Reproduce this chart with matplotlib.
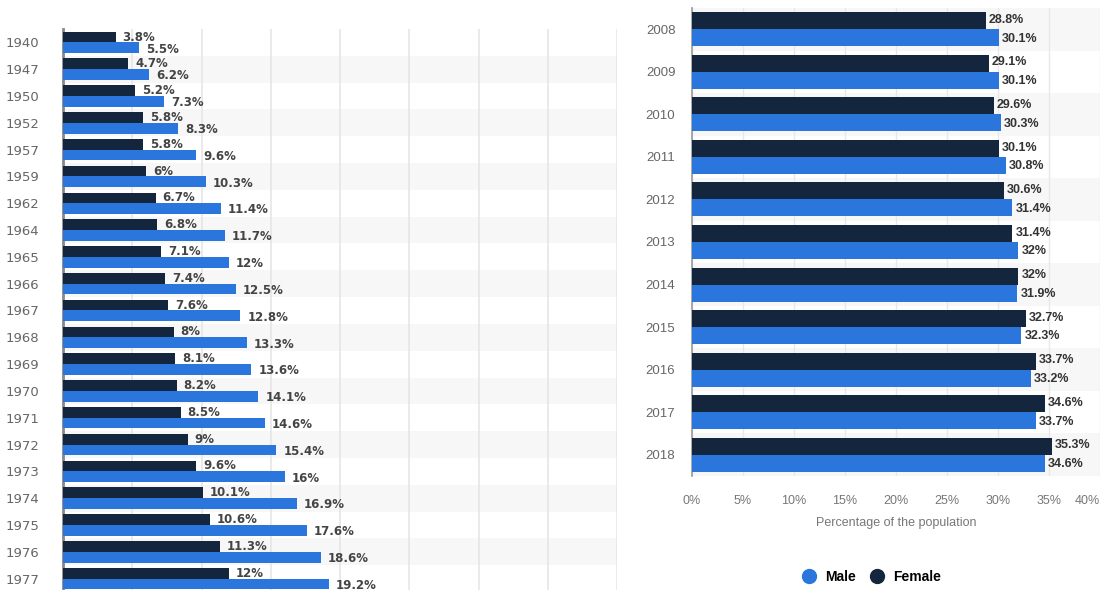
import matplotlib.pyplot as plt
import numpy as np

# data
anos_antigos = ["1940", "1947", "1950", "1952", "1957", "1959", "1962", "1964", "1965", "1966",
                "1967", "1968", "1969", "1970", "1971", "1972", "1973", "1974", "1975", "1976", "1977"]
fem_antigo = [3.8, 4.7, 5.2, 5.8, 5.8, 6, 6.7, 6.8, 7.1, 7.4,
              7.6, 8, 8.1, 8.2, 8.5, 9, 9.6, 10.1, 10.6, 11.3, 12]
masc_antigo = [5.5, 6.2, 7.3, 8.3, 9.6, 10.3, 11.4, 11.7, 12, 12.5,
               12.8, 13.3, 13.6, 14.1, 14.6, 15.4, 16, 16.9, 17.6, 18.6, 19.2]

anos_novos = ["2008", "2009", "2010", "2011", "2012", "2013", "2014", "2015", "2016", "2017", "2018"]
fem_novo = [28.8, 29.1, 29.6, 30.1, 30.6, 31.4, 32, 32.7, 33.7, 34.6, 35.3]
masc_novo = [30.1, 30.1, 30.3, 30.8, 31.4, 32, 31.9, 32.3, 33.2, 33.7, 34.6]

ticks_x = [0, 5, 10, 15, 20, 25, 30, 35, 40]

azul = "#2a76dd"
marinho = "#13263d"
faixa = "#f7f7f7"


def rotulo(v):
    if float(v).is_integer():
        return f"{int(v)}%"
    return f"{v}%"


fig = plt.figure(figsize=(11.04, 5.9), dpi=100)

# painel da esquerda (faixas cinzas nas linhas ímpares)
ax1 = fig.add_axes([63 / 1104, (590 - 592) / 590, 554 / 1104, 563 / 590])
n1 = len(anos_antigos)
y1 = np.arange(n1)
for i in range(n1):
    if i % 2 == 1:
        ax1.axhspan(i - 0.5, i + 0.5, color=faixa, zorder=0, lw=0)
ax1.barh(y1 - 0.2, fem_antigo, height=0.4, color=marinho, zorder=3)
ax1.barh(y1 + 0.2, masc_antigo, height=0.4, color=azul, zorder=3)
for i in range(n1):
    ax1.text(fem_antigo[i] + 0.5, y1[i] - 0.2, rotulo(fem_antigo[i]), va="center", ha="left",
             fontsize=8.5, fontweight="bold", color="#444444", family="DejaVu Sans")
    ax1.text(masc_antigo[i] + 0.5, y1[i] + 0.25, rotulo(masc_antigo[i]), va="center", ha="left",
             fontsize=8.5, fontweight="bold", color="#444444", family="DejaVu Sans")
ax1.set_xlim(0, 40)
ax1.set_ylim(n1 - 0.5, -0.5)
ax1.set_xticks(ticks_x)
ax1.set_xticklabels([])
ax1.grid(axis="x", color="#e6e6e6", lw=1.2, zorder=1)
ax1.set_yticks(y1)
ax1.set_yticklabels(anos_antigos, fontsize=9.5, color="#666666", family="DejaVu Sans")
ax1.tick_params(length=0, pad=17)
for s in ["top", "right", "bottom"]:
    ax1.spines[s].set_visible(False)
ax1.spines["left"].set_color("#888888")
ax1.spines["left"].set_linewidth(2)

# painel da direita
ax2 = fig.add_axes([692 / 1104, (590 - 476) / 590, 408 / 1104, 468 / 590])
n2 = len(anos_novos)
y2 = np.arange(n2)
for i in range(n2):
    if i % 2 == 0:
        ax2.axhspan(i - 0.5, i + 0.5, color=faixa, zorder=0, lw=0)
ax2.barh(y2 - 0.2, fem_novo, height=0.4, color=marinho, zorder=3)
ax2.barh(y2 + 0.2, masc_novo, height=0.4, color=azul, zorder=3)
for i in range(n2):
    ax2.text(fem_novo[i] + 0.3, y2[i] - 0.22, rotulo(fem_novo[i]), va="center", ha="left",
             fontsize=9, fontweight="bold", color="#333333", family="Liberation Sans")
    ax2.text(masc_novo[i] + 0.3, y2[i] + 0.22, rotulo(masc_novo[i]), va="center", ha="left",
             fontsize=9, fontweight="bold", color="#333333", family="Liberation Sans")
ax2.set_xlim(0, 40)
ax2.set_ylim(n2 - 0.5, -0.5)
ax2.set_xticks(ticks_x)
ax2.set_xticklabels([f"{t}%" for t in ticks_x], fontsize=9, color="#777777", family="Liberation Sans")
ax2.get_xticklabels()[-1].set_horizontalalignment("right")
ax2.grid(axis="x", color="#e8e8e8", lw=1, zorder=1)
ax2.set_yticks(y2)
ax2.set_yticklabels(anos_novos, fontsize=9.5, color="#666666", family="Liberation Sans")
ax2.tick_params(axis="y", length=0, pad=12)
ax2.tick_params(axis="x", length=0, pad=14)
ax2.set_xlabel("Percentage of the population", fontsize=9, color="#777777",
               family="Liberation Sans", labelpad=7)
for s in ["top", "right", "bottom"]:
    ax2.spines[s].set_visible(False)
ax2.spines["left"].set_color("#999999")
ax2.spines["left"].set_linewidth(1.2)

# legenda
h1 = plt.Line2D([], [], marker="o", ls="", color=azul, markersize=10)
h2 = plt.Line2D([], [], marker="o", ls="", color=marinho, markersize=10)
fig.legend([h1, h2], ["Male", "Female"], loc="center", bbox_to_anchor=(868 / 1104, (590 - 577) / 590),
           ncol=2, frameon=False, handletextpad=0.2, columnspacing=0.5,
           prop={"family": "Liberation Sans", "weight": "bold", "size": 10})

fig.savefig("out.png", dpi=100)
